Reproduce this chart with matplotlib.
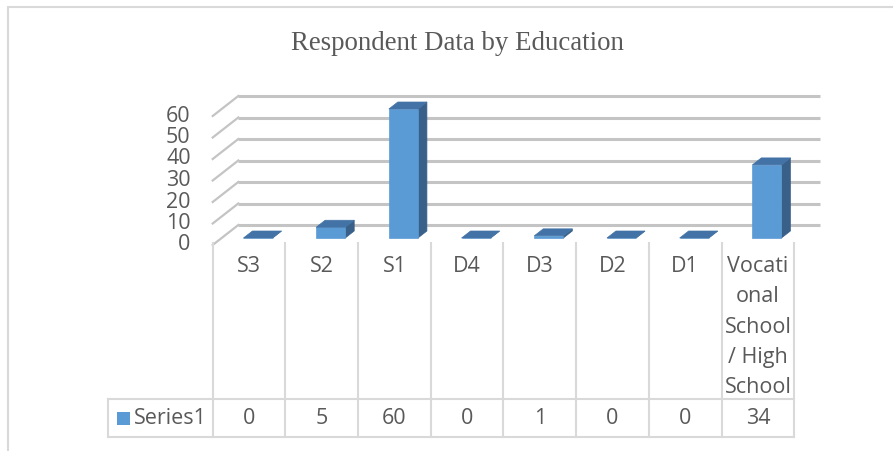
import matplotlib
matplotlib.use("Agg")
import matplotlib.pyplot as plt
import matplotlib.transforms as mtransforms
from matplotlib.patches import Polygon, Rectangle

categories = ["S3", "S2", "S1", "D4", "D3", "D2", "D1",
              "Vocati\nonal\nSchool\n/ High\nSchool"]
values = [0, 5, 60, 0, 1, 0, 0, 34]
series_name = "Series1"
yticks = [0, 10, 20, 30, 40, 50, 60]
title = "Respondent Data by Education"

front_color = "#5B9BD5"
top_color = "#4373A6"
side_color = "#386089"
grid_color = "#C4C4C4"
table_color = "#D9D9D9"
text_color = "#595959"
sans = ["Open Sans", "DejaVu Sans"]
fs = 15.5

W, H = 893, 451
fig = plt.figure(figsize=(W / 100, H / 100), dpi=100)
fig.patch.set_facecolor("white")

def px(x0, y0, x1, y1):
    # pixel box (from top-left) -> figure fraction rect
    return [x0 / W, 1 - y1 / H, (x1 - x0) / W, (y1 - y0) / H]

# front plane of the plot area: categories -0.5..7.5, values 0..60
ax = fig.add_axes(px(212.7, 116, 794.3, 245))
n = len(categories)
ax.set_xlim(-0.5, n - 0.5)
ax.set_ylim(0, 60)
ax.axis("off")

# oblique depth: full depth shifts by DX categories and DY value units
DX = 25.6 / 72.7
DY = 20 / 2.15
z_front, z_back = 0.35, 0.70
bw = 0.4

# chart border (right/bottom run off the image)
fig.patches.append(Rectangle((8 / W, -0.1), 1.2, 1 - 7 / H + 0.1,
                             transform=fig.transFigure, fill=False,
                             edgecolor=table_color, lw=1.5))

# gridlines: back wall + left side wall
for v in yticks:
    ax.plot([-0.5 + DX, n - 0.5 + DX], [v + DY, v + DY], color=grid_color,
            lw=2.2, clip_on=False, solid_capstyle="butt", zorder=1)
    ax.plot([-0.5, -0.5 + DX], [v, v + DY], color=grid_color,
            lw=1.6, clip_on=False, zorder=1)

# 3D columns
for i, v in enumerate(values):
    xl, xr = i - bw / 2, i + bw / 2
    f0, b0 = z_front * DX, z_back * DX
    fy, by = z_front * DY, z_back * DY
    side = [(xr + f0, fy), (xr + b0, by), (xr + b0, v + by), (xr + f0, v + fy)]
    front = [(xl + f0, fy), (xr + f0, fy), (xr + f0, v + fy), (xl + f0, v + fy)]
    top = [(xl + f0, v + fy), (xr + f0, v + fy), (xr + b0, v + by), (xl + b0, v + by)]
    for pts, c in ((side, side_color), (front, front_color), (top, top_color)):
        ax.add_patch(Polygon(pts, closed=True, facecolor=c, edgecolor=c,
                             lw=0.5, clip_on=False, zorder=3))

# y tick labels at the front edge of the side wall
lab_tr = mtransforms.offset_copy(ax.transData, fig=fig, x=-22, y=0, units="dots")
for v in yticks:
    ax.text(-0.5, v, str(v), transform=lab_tr, ha="right", va="center",
            fontsize=fs, color=text_color, family=sans)

# data table below the plot
tb = mtransforms.blended_transform_factory(ax.transData, fig.transFigure)
def fy_(p):
    return 1 - p / H

top_y, mid_y, bot_y = 243, 399, 436.5
leg_left = -0.5 - (212.7 - 107.7) / 72.7
for k in range(n + 1):
    ax.plot([k - 0.5, k - 0.5], [fy_(top_y), fy_(bot_y)], transform=tb,
            color=table_color, lw=1.5, clip_on=False)
ax.plot([leg_left, leg_left], [fy_(mid_y), fy_(bot_y)], transform=tb,
        color=table_color, lw=1.5, clip_on=False)
for yy in (mid_y, bot_y):
    ax.plot([leg_left, n - 0.5], [fy_(yy), fy_(yy)], transform=tb,
            color=table_color, lw=1.5, clip_on=False)

for i, (c, v) in enumerate(zip(categories, values)):
    ax.text(i, fy_(256), c, transform=tb, ha="center", va="top",
            fontsize=fs, color=text_color, family=sans, linespacing=1.58)
    ax.text(i, fy_(418), str(v), transform=tb, ha="center", va="center",
            fontsize=fs, color=text_color, family=sans)

# legend key + series name
ax.add_patch(Rectangle((leg_left + 9 / 72.7, fy_(425)), 13 / 72.7, 13 / H,
                       transform=tb, facecolor=front_color, edgecolor="none",
                       clip_on=False))
ax.text(leg_left + 26 / 72.7, fy_(418), series_name, transform=tb,
        ha="left", va="center", fontsize=fs, color=text_color, family=sans)

fig.text(457 / W, fy_(43), title, ha="center", va="center", fontsize=19.4,
         color=text_color, family=["Liberation Serif", "DejaVu Serif"])

fig.savefig("out.png", dpi=100, facecolor="white")
